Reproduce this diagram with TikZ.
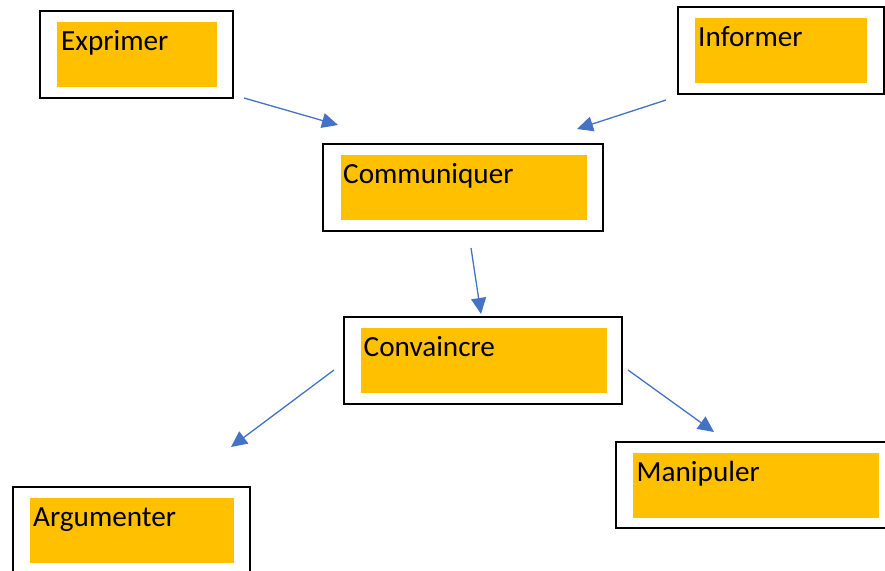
\documentclass[tikz,border=0pt]{standalone}
\usepackage{fontspec}
\setmainfont{Carlito}
\usetikzlibrary{arrows.meta}
\definecolor{orng}{HTML}{FFC000}
\definecolor{arrblue}{HTML}{4472C4}
\tikzset{
  outerbox/.style={draw=black, line width=2pt, fill=white, inner sep=0pt, outer sep=0pt},
  innerbox/.style={fill=orng, inner sep=0pt, outer sep=0pt, minimum width=246, minimum height=65, anchor=north west},
  lbl/.style={inner sep=0pt, anchor=base west, font=\fontsize{29.2}{35}\selectfont, text=black},
  conn/.style={draw=arrblue, line width=1.3pt, -{Triangle[length=16pt,width=15pt]}}
}
\begin{document}
\begin{tikzpicture}[x=1pt,y=-1pt]
\useasboundingbox (0,0) rectangle (885,570);
% Exprimer
\node[outerbox, minimum width=193, minimum height=87] (exprimerbox) at (136.5,54.5) {};
\node[innerbox, minimum width=160] (exprimerfill) at (57,22) {};
\node[lbl] (exprimer) at (61,50) {Exprimer};
% Informer
\node[outerbox, minimum width=206, minimum height=87] (informerbox) at (781,50.5) {};
\node[innerbox, minimum width=172] (informerfill) at (695,18) {};
\node[lbl] (informer) at (698,46) {Informer};
% Communiquer
\node[outerbox, minimum width=280, minimum height=87] (communiquerbox) at (463,187.5) {};
\node[innerbox] (communiquerfill) at (341,155) {};
\node[lbl] (communiquer) at (343,183) {Communiquer};
% Convaincre
\node[outerbox, minimum width=278, minimum height=87] (convaincrebox) at (483,360.5) {};
\node[innerbox] (convaincrefill) at (361,328) {};
\node[lbl] (convaincre) at (363.5,356) {Convaincre};
% Argumenter
\node[outerbox, minimum width=237, minimum height=90] (argumenterbox) at (131.5,532) {};
\node[innerbox, minimum width=204] (argumenterfill) at (30,498) {};
\node[lbl] (argumenter) at (33,526) {Argumenter};
% Manipuler
\node[outerbox, minimum width=270, minimum height=86] (manipulerbox) at (751,485) {};
\node[innerbox] (manipulerfill) at (633,453) {};
\node[lbl] (manipuler) at (636.5,481) {Manipuler};
% connector ends
\coordinate (a1s) at (244,98);  \coordinate (a1e) at (338,125);
\coordinate (a2s) at (666,100); \coordinate (a2e) at (577,129);
\coordinate (a3s) at (471,248); \coordinate (a3e) at (481,314);
\coordinate (a4s) at (334,370); \coordinate (a4e) at (231,447);
\coordinate (a5s) at (628,370); \coordinate (a5e) at (714,432);
\draw[conn] (a1s) -- (a1e);
\draw[conn] (a2s) -- (a2e);
\draw[conn] (a3s) -- (a3e);
\draw[conn] (a4s) -- (a4e);
\draw[conn] (a5s) -- (a5e);
\end{tikzpicture}
\end{document}
